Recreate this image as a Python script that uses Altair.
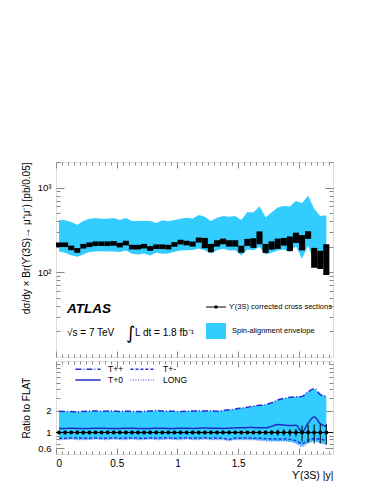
import altair as alt
import pandas as pd

# ---------------- data ----------------
rap = [0.025, 0.075, 0.125, 0.175, 0.225, 0.275, 0.325, 0.375, 0.425, 0.475,
       0.525, 0.575, 0.625, 0.675, 0.725, 0.775, 0.825, 0.875, 0.925, 0.975,
       1.025, 1.075, 1.125, 1.175, 1.225, 1.275, 1.325, 1.375, 1.425, 1.475,
       1.525, 1.575, 1.625, 1.675, 1.725, 1.775, 1.825, 1.875, 1.925, 1.975,
       2.025, 2.075, 2.125, 2.175, 2.225]
bin_half = 0.025

xsec = [211, 211, 194, 181, 203, 211, 217, 217, 217, 219,
        209, 221, 198, 198, 203, 191, 200, 200, 198, 213,
        227, 221, 215, 240, 221, 193, 219, 231, 219, 219,
        187, 225, 221, 255, 191, 207, 217, 229, 217, 255,
        223, 275, 148, 140, 141]
sys_pct = [6.5, 6.5, 6.5, 6.5, 6.5, 6.5, 6.5, 6.5, 6.5, 6.5,
           6.5, 6.5, 6.5, 6.5, 6.5, 6.5, 6.5, 6.5, 6.5, 6.5,
           6.5, 6.5, 7, 7, 15, 12, 9, 8, 9, 9,
           10, 10, 14, 19, 13, 12, 15, 11, 22, 15,
           23, 11, 31, 28, 52]
env_hi = [414, 410, 392, 364, 403, 429, 437, 429, 429, 437,
          414, 437, 403, 403, 403, 403, 381, 410, 399, 414,
          429, 441, 430, 475, 453, 403, 441, 462, 453, 462,
          414, 515, 506, 601, 445, 506, 580, 607, 596, 695,
          653, 797, 560, 462, 470]
env_lo = [176, 170, 159, 152, 162, 173, 176, 177, 176, 176,
          173, 181, 165, 162, 167, 158, 170, 165, 167, 174,
          181, 182, 183, 191, 182, 167, 182, 189, 181, 182,
          158, 186, 182, 198, 162, 170, 181, 186, 173, 203,
          144, 205, 130, 125, 120]

r_tpp = [1.98, 1.97, 1.96, 1.95, 1.97, 1.99, 2.00, 1.98, 1.99, 2.00,
         1.97, 1.98, 1.97, 1.96, 1.98, 1.99, 2.03, 1.99, 2.00, 1.98,
         1.97, 1.99, 2.00, 2.01, 2.00, 2.02, 1.98, 2.03, 2.08, 2.12,
         2.20, 2.25, 2.35, 2.40, 2.45, 2.60, 2.85, 3.00, 3.10, 3.15,
         3.20, 3.70, 4.10, 3.40, 3.20]
r_tpm = [0.83, 0.83, 0.84, 0.84, 0.83, 0.83, 0.84, 0.83, 0.83, 0.84,
         0.83, 0.84, 0.84, 0.83, 0.83, 0.84, 0.83, 0.84, 0.84, 0.83,
         0.84, 0.84, 0.83, 0.84, 0.84, 0.83, 0.84, 0.83, 0.80, 0.84,
         0.84, 0.84, 0.83, 0.83, 0.82, 0.81, 0.81, 0.81, 0.80, 0.77,
         0.70, 0.78, 0.82, 0.80, 0.78]
r_tp0 = [1.14, 1.14, 1.15, 1.14, 1.14, 1.14, 1.15, 1.15, 1.14, 1.14,
         1.14, 1.15, 1.15, 1.14, 1.14, 1.14, 1.15, 1.15, 1.14, 1.14,
         1.15, 1.15, 1.14, 1.15, 1.16, 1.15, 1.15, 1.14, 1.15, 1.16,
         1.16, 1.17, 1.17, 1.16, 1.16, 1.22, 1.29, 1.27, 1.25, 1.26,
         1.02, 1.35, 1.65, 1.33, 1.22]
r_long = [0.80, 0.80, 0.81, 0.80, 0.80, 0.80, 0.81, 0.80, 0.80, 0.81,
          0.80, 0.80, 0.81, 0.80, 0.80, 0.81, 0.80, 0.80, 0.81, 0.80,
          0.80, 0.81, 0.80, 0.80, 0.81, 0.80, 0.80, 0.80, 0.77, 0.80,
          0.80, 0.80, 0.79, 0.78, 0.77, 0.76, 0.76, 0.76, 0.75, 0.71,
          0.64, 0.72, 0.76, 0.72, 0.68]
r_err = [0.03, 0.03, 0.03, 0.03, 0.03, 0.03, 0.03, 0.03, 0.03, 0.03,
         0.03, 0.03, 0.03, 0.03, 0.03, 0.03, 0.03, 0.03, 0.03, 0.03,
         0.03, 0.03, 0.03, 0.03, 0.04, 0.04, 0.03, 0.03, 0.03, 0.03,
         0.04, 0.04, 0.05, 0.05, 0.06, 0.08, 0.10, 0.10, 0.12, 0.12,
         0.25, 0.28, 0.30, 0.30, 0.32]

series_names = ["T++", "T+-", "T+0", "LONG"]
series_colors = ["#2b2bd9", "#2b2bd9", "#1c2fc4", "#7d7dfa"]
series_dash = [[6, 2, 1, 2], [3, 2], [1, 0], [1, 1.5]]
series_width = [1.5, 1.5, 2.0, 1.5]

BLUE = "#33ccff"
FONT = "Liberation Sans"
W, HT, HB = 277, 195, 93

# ---------------- tables ----------------
df = pd.DataFrame({"rap": rap, "xsec": xsec, "sys": sys_pct,
                   "env_hi": env_hi, "env_lo": env_lo,
                   "tpp": r_tpp, "tpm": r_tpm, "tp0": r_tp0, "long": r_long,
                   "rerr": r_err})
df["x0"] = df["rap"] - bin_half
df["x1"] = df["rap"] + bin_half
df["blo"] = df["xsec"] / (1 + df["sys"] / 100)
df["bhi"] = df["xsec"] * (1 + df["sys"] / 100)
df["rdata"] = df["xsec"] / df["xsec"]
df["elo"] = df["rdata"] - df["rerr"]
df["ehi"] = df["rdata"] + df["rerr"]

lines_df = pd.concat([
    pd.DataFrame({"rap": rap, "ratio": vals, "series": name})
    for name, vals in zip(series_names, [r_tpp, r_tpm, r_tp0, r_long])
])

one_row = pd.DataFrame({"k": [0]})

# ---------------- scales / axes (ROOT style: ticks inside on all sides) ----------------
x_ticks = [round(i * 0.05, 2) for i in range(46)]
x_major = "abs(datum.value*2 - round(datum.value*2)) < 0.001"
x_scale = alt.Scale(domain=[0, 2.28], nice=False, zero=False)

y_top_ticks = [20, 30, 40, 50, 60, 70, 80, 90, 100, 200, 300, 400, 500, 600,
               700, 800, 900, 1000, 2000]
y_top_major = "datum.value == 100 || datum.value == 1000"
y_top_scale = alt.Scale(type="log", domain=[10, 2000], nice=False)
y_bot_ticks = [0.6, 0.7, 0.8, 0.9, 1, 2, 3, 4, 5, 6, 7, 8, 9]
y_bot_major = "datum.value == 0.6 || datum.value == 1 || datum.value == 2"
y_bot_scale = alt.Scale(type="log", domain=[0.5, 10], nice=False)


def tick_axis(orient, offset, values, major_test, big=6, small=3):
    return alt.Axis(orient=orient, offset=offset, values=values, labels=False,
                    title=None, grid=False, domain=False,
                    tickSize={"condition": {"test": major_test, "value": big},
                              "value": small})


def y_label_axis(values, label_expr, title, anchor):
    return alt.Axis(orient="left", values=values, ticks=False, tickSize=0,
                    grid=False, domain=False, labelExpr=label_expr,
                    labelOverlap=False, labelPadding=5, labelFontSize=9.5,
                    title=title, titleFontSize=10, titleFontWeight="normal",
                    titlePadding=6, titleAnchor=anchor)


# top panel axes
top_x_bottom = tick_axis("top", -HT, x_ticks, x_major)      # ticks inside, bottom edge
top_x_top = tick_axis("bottom", -HT, x_ticks, x_major)      # ticks inside, top edge
top_y_lab = y_label_axis(y_top_ticks,
                         "datum.value == 100 ? '10²' : datum.value == 1000 ? '10³' : ''",
                         "dσ/dy × Br(ϒ(3S)→ μ⁺μ⁻) [pb/0.05]", "end")
top_y_left = tick_axis("right", -W, y_top_ticks, y_top_major, 8, 4)
top_y_right = tick_axis("left", -W, y_top_ticks, y_top_major, 8, 4)

# ratio panel axes
bot_x_lab = alt.Axis(orient="bottom", values=x_ticks, ticks=False, tickSize=0,
                     grid=False, domain=False, labelOverlap=False,
                     labelExpr=f"{x_major} ? format(datum.value, '~g') : ''",
                     labelPadding=4, labelFontSize=10,
                     title="ϒ(3S) |y|", titleAnchor="end", titleFontSize=10.5,
                     titleFontWeight="normal", titlePadding=2)
bot_x_bottom = tick_axis("top", -HB, x_ticks, x_major)
bot_x_top = tick_axis("bottom", -HB, x_ticks, x_major)
bot_y_lab = y_label_axis(y_bot_ticks,
                         "datum.value == 0.6 ? '0.6' : datum.value == 1 ? '1' : datum.value == 2 ? '2' : ''",
                         "Ratio to FLAT", "middle")
bot_y_left = tick_axis("right", -W, y_bot_ticks, y_bot_major, 8, 4)
bot_y_right = tick_axis("left", -W, y_bot_ticks, y_bot_major, 8, 4)

# ---------------- top panel ----------------
base = alt.Chart(df)
env = base.mark_area(color=BLUE, opacity=1).encode(
    x=alt.X("rap:Q", scale=x_scale, axis=top_x_bottom),
    y=alt.Y("env_lo:Q", scale=y_top_scale, axis=top_y_lab),
    y2="env_hi:Q")
boxes = base.mark_rect(color="black").encode(
    x=alt.X("x0:Q", scale=x_scale, axis=top_x_top), x2="x1:Q",
    y=alt.Y("blo:Q", scale=y_top_scale, axis=top_y_left), y2="bhi:Q")
frame_ticks = base.mark_point(opacity=0).encode(
    x=alt.X("rap:Q", scale=x_scale, axis=None),
    y=alt.Y("xsec:Q", scale=y_top_scale, axis=top_y_right))

ann = alt.Chart(one_row)
atlas = ann.mark_text(text="ATLAS", font=FONT, fontSize=13.5, fontWeight="bold",
                      fontStyle="italic", align="left", baseline="alphabetic",
                      color="black").encode(x=alt.value(11), y=alt.value(151))
sqrt_s = ann.mark_text(text="√s = 7 TeV", font=FONT, fontSize=10, align="left",
                       baseline="alphabetic").encode(x=alt.value(11), y=alt.value(174))
integ = ann.mark_text(text="∫", font="DejaVu Sans", fontSize=18, align="left",
                      baseline="alphabetic").encode(x=alt.value(70), y=alt.value(177))
lumi = ann.mark_text(text="L dt = 1.8 fb⁻¹", font=FONT, fontSize=10, align="left",
                     baseline="alphabetic").encode(x=alt.value(79), y=alt.value(174))
leg_line = ann.mark_rule(color="black", strokeWidth=1).encode(
    x=alt.value(150), x2=alt.value(170), y=alt.value(145))
leg_pt = ann.mark_circle(color="black", size=12, opacity=1).encode(
    x=alt.value(160), y=alt.value(145))
leg_txt1 = ann.mark_text(text="ϒ(3S) corrected cross sections", font=FONT,
                         fontSize=7.5, align="left", baseline="middle").encode(
    x=alt.value(173), y=alt.value(145))
leg_box = ann.mark_rect(color=BLUE).encode(
    x=alt.value(150), x2=alt.value(170), y=alt.value(161), y2=alt.value(177))
leg_txt2 = ann.mark_text(text="Spin-alignment envelope", font=FONT,
                         fontSize=7.5, align="left", baseline="middle").encode(
    x=alt.value(176), y=alt.value(169))

top = alt.layer(env, boxes, frame_ticks, atlas, sqrt_s, integ, lumi, leg_line,
                leg_pt, leg_txt1, leg_box, leg_txt2).resolve_axis(
    x="independent", y="independent").properties(width=W, height=HT)

# ---------------- ratio panel ----------------
fill = base.mark_area(color=BLUE, opacity=1).encode(
    x=alt.X("rap:Q", scale=x_scale, axis=bot_x_lab),
    y=alt.Y("long:Q", scale=y_bot_scale, axis=bot_y_lab),
    y2="tpp:Q")

leg = alt.Legend(orient="none", legendX=27, legendY=HT + 7, columns=2,
                 direction="horizontal", title=None,
                 symbolType="M-3,0H3", symbolSize=70, labelFont=FONT,
                 labelFontSize=8.5, labelOffset=15, columnPadding=3, rowPadding=1,
                 padding=0, labelColor="black")
ratio_lines = alt.Chart(lines_df).mark_line(interpolate="monotone").encode(
    x=alt.X("rap:Q", scale=x_scale, axis=bot_x_bottom),
    y=alt.Y("ratio:Q", scale=y_bot_scale, axis=bot_y_left),
    color=alt.Color("series:N", scale=alt.Scale(domain=series_names, range=series_colors),
                    legend=leg, sort=series_names),
    strokeDash=alt.StrokeDash("series:N", scale=alt.Scale(domain=series_names, range=series_dash),
                              legend=leg, sort=series_names),
    strokeWidth=alt.StrokeWidth("series:N", scale=alt.Scale(domain=series_names, range=series_width),
                                legend=leg, sort=series_names))

unit_line = ann.mark_rule(color="black", strokeWidth=1).encode(
    y=alt.YDatum(1, axis=None))
ebars = base.mark_rule(color="black", strokeWidth=1).encode(
    x=alt.X("rap:Q", scale=x_scale, axis=bot_x_top),
    y=alt.Y("elo:Q", scale=y_bot_scale, axis=bot_y_right), y2="ehi:Q")
pts = base.mark_circle(color="black", size=16, opacity=1).encode(
    x=alt.X("rap:Q", scale=x_scale, axis=None),
    y=alt.Y("rdata:Q", scale=y_bot_scale, axis=None))

bottom = alt.layer(fill, ratio_lines, unit_line, ebars, pts).resolve_axis(
    x="independent", y="independent").properties(width=W, height=HB)

chart = alt.vconcat(top, bottom, spacing=0).properties(
    padding={"left": 12, "top": 148, "right": 5, "bottom": 5}
).configure_view(stroke="black", strokeWidth=1).configure_axis(
    labelFont=FONT, titleFont=FONT, titleFontWeight="normal",
    labelColor="black", titleColor="black", tickColor="black"
).configure(background="white")

chart.save("out.html", embed_options={"renderer": "svg", "actions": False})
